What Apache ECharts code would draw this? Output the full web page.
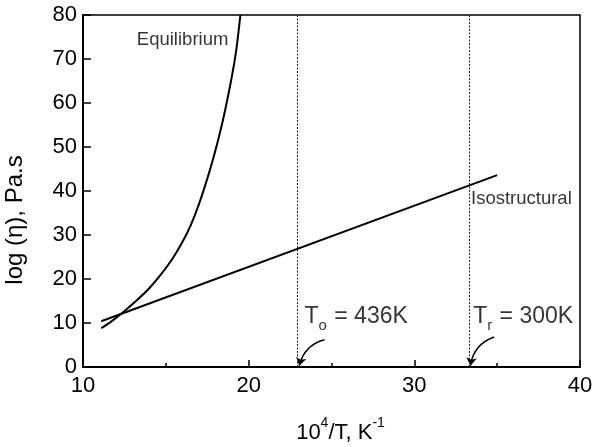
<!DOCTYPE html>
<html>
<head>
<meta charset="utf-8">
<script src="https://cdn.jsdelivr.net/npm/echarts@6/dist/echarts.min.js"></script>
<style>html,body{margin:0;padding:0;background:#fff}#c{width:592px;height:447px}</style>
</head>
<body>
<div id="c"></div>
<script>
// Equilibrium curve
var eqX = [11.1, 11.8, 12.4, 13.2, 14.0, 14.8, 15.4, 16.0, 16.5, 17.0, 17.6, 18.0, 18.5, 19.0, 19.25, 19.5];
var eqY = [8.8, 10.6, 12.4, 15.0, 17.9, 21.5, 24.6, 28.4, 32.2, 37.0, 44.0, 49.3, 57.0, 66.3, 72.0, 80.0];
// Isostructural line
var isoX = [11.1, 35.0];
var isoY = [10.4, 43.6];
// Reference temperatures (10^4/T)
var refTemps = [436, 300];
var xTicks = [10, 20, 30, 40];
var yTicks = [0, 10, 20, 30, 40, 50, 60, 70, 80];

var font = 'Liberation Sans, Arial, Helvetica, sans-serif';
function zip(a, b) { return a.map(function (v, i) { return [v, b[i]]; }); }
var refX = refTemps.map(function (t) { return 1e4 / t; });

var option = {
  backgroundColor: '#fff',
  animation: false,
  grid: { left: 83, right: 12, top: 15, bottom: 80, show: true, borderColor: '#000', borderWidth: 1.5,
    backgroundColor: 'transparent', containLabel: false, outerBoundsMode: 'none' },
  xAxis: {
    type: 'value', min: xTicks[0], max: xTicks[xTicks.length - 1], interval: 10,
    name: '{n|10}{s|4}{n|/T, K}{s|-1}', nameLocation: 'middle', nameGap: 49,
    nameTextStyle: { padding: [0, 0, 0, 18], rich: {
      n: { fontFamily: font, fontSize: 22, color: '#000', verticalAlign: 'top', padding: [6, 0, 0, 0] },
      s: { fontFamily: font, fontSize: 14, color: '#000', verticalAlign: 'top' } } },
    axisLine: { lineStyle: { color: '#000', width: 2 } },
    axisTick: { inside: true, length: 7, lineStyle: { color: '#000', width: 1.5 } },
    minorTick: { show: true, splitNumber: 2, length: 4, lineStyle: { color: '#000', width: 1.5 } },
    axisLabel: { color: '#000', fontFamily: font, fontSize: 22, margin: 8 },
    splitLine: { show: false }
  },
  yAxis: {
    type: 'value', min: yTicks[0], max: yTicks[yTicks.length - 1], interval: 10,
    name: 'log (η), Pa.s', nameLocation: 'middle', nameGap: 56,
    nameTextStyle: { color: '#000', fontFamily: font, fontSize: 24, padding: [0, 58, 0, 0] },
    axisLine: { lineStyle: { color: '#000', width: 2 } },
    axisTick: { inside: true, length: 8, lineStyle: { color: '#000', width: 1.5 } },
    axisLabel: { color: '#000', fontFamily: font, fontSize: 22, margin: 6 },
    splitLine: { show: false }
  },
  series: [
    {
      name: 'Equilibrium', type: 'line', data: zip(eqX, eqY), smooth: 0.3, showSymbol: false,
      lineStyle: { color: '#000', width: 2 }, clip: true,
      markLine: {
        silent: true, symbol: 'none', label: { show: false },
        lineStyle: { color: '#222', type: [2, 1.5], width: 1 },
        data: refX.map(function (v) { return { xAxis: v }; })
      }
    },
    {
      name: 'Isostructural', type: 'line', data: zip(isoX, isoY), showSymbol: false,
      lineStyle: { color: '#000', width: 2 }
    },
    {
      name: 'arrows', type: 'lines', coordinateSystem: 'cartesian2d', polyline: false,
      symbol: ['none', 'arrow'], symbolSize: [0, 8],
      lineStyle: { color: '#000', width: 1.5, curveness: -0.3, opacity: 1 },
      data: [
        { coords: [[24.58, 6.2], [refX[0] + 0.12, 0.3]] },
        { coords: [[34.82, 6.8], [refX[1] + 0.05, 0.3]] }
      ]
    },
    {
      name: 'notes', type: 'scatter', symbolSize: 0, silent: true,
      label: { show: true, position: 'right', distance: 0, color: '#000', fontFamily: font,
        formatter: function (p) { return p.data[2]; },
        rich: {
          a: { fontFamily: font, fontSize: 18.5, color: '#000' },
          n: { fontFamily: font, fontSize: 23, color: '#000', verticalAlign: 'top' },
          b: { fontFamily: font, fontSize: 15, color: '#000', verticalAlign: 'top', padding: [13, 1, 0, 0] }
        } },
      data: [
        [13.25, 74.3, '{a|Equilibrium}'],
        [33.42, 38.1, '{a|Isostructural}'],
        [23.37, 10.8, '{n|T}{b|o}{n| = ' + refTemps[0] + 'K}'],
        [33.55, 10.8, '{n|T}{b|r}{n| = ' + refTemps[1] + 'K}']
      ]
    }
  ]
};
var chart = echarts.init(document.getElementById('c'), null, { renderer: 'canvas' });
chart.setOption(option);
</script>
</body>
</html>
